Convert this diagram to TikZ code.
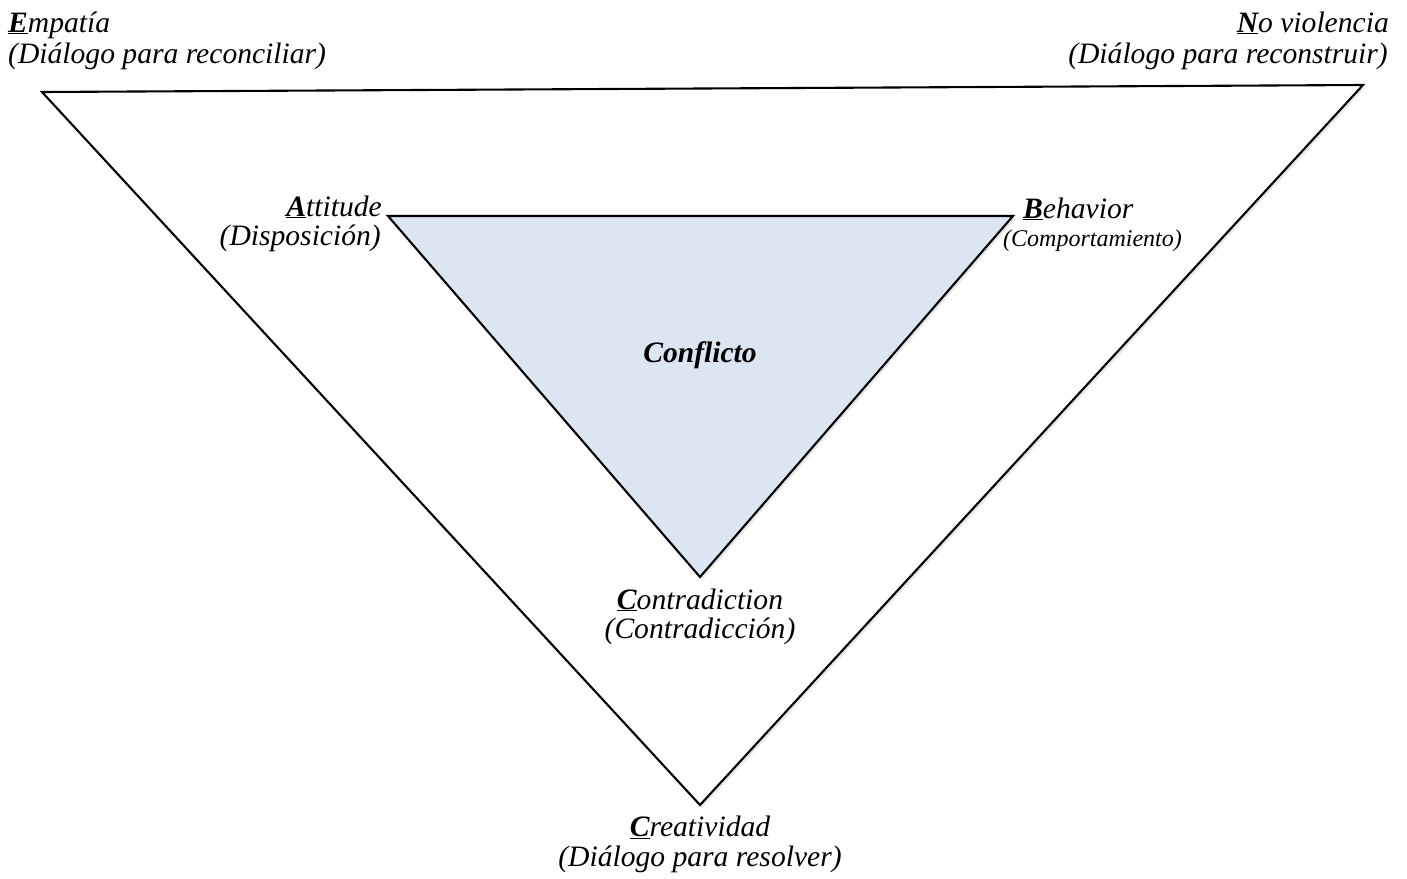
\documentclass[tikz,border=0pt]{standalone}
\usepackage{fontspec}
\setmainfont{Liberation Serif}
\usetikzlibrary{positioning,shadows}
\definecolor{conflictfill}{RGB}{220,230,242}
\newcommand{\firstletter}[1]{\underline{\textbf{#1}}}

\begin{document}
\begin{tikzpicture}[x=1pt,y=-1pt,
    lbl/.style={font=\fontsize{29.6}{31}\selectfont\itshape,inner sep=0pt},
    lblsmall/.style={font=\fontsize{24}{26}\selectfont\itshape,inner sep=0pt},
    tri/.style={draw,line width=2.1pt,line join=miter,
        drop shadow={opacity=0.18,shadow xshift=2pt,shadow yshift=-3pt}}]
    \useasboundingbox (0,0) rectangle (1407,878);
    % outer triangle
    \coordinate (e) at (42,92);
    \coordinate (n) at (1363,85);
    \coordinate (c) at (700,805);
    \path[tri,fill=white] (e) -- (n) -- (c) -- cycle;
    % inner triangle
    \coordinate (a) at (388,216);
    \coordinate (b) at (1013,216);
    \coordinate (k) at (700,577);
    \path[tri,fill=conflictfill] (a) -- (b) -- (k) -- cycle;
    \node[lbl,font=\fontsize{29.6}{31}\selectfont\bfseries\itshape,anchor=base] (conflicto) at (700,362) {Conflicto};
    % corner labels
    \node[lbl,anchor=base west] (empatia) at (8,32) {\firstletter{E}mpatía};
    \node[lbl,anchor=base west] (empatiasub) at (8,63) {(Diálogo para reconciliar)};
    \node[lbl,anchor=base east] (noviolencia) at (1389,32) {\firstletter{N}o violencia};
    \node[lbl,anchor=base east] (noviolenciasub) at (1388,63) {(Diálogo para reconstruir)};
    \node[lbl,anchor=base] (creatividad) at (700,836) {\firstletter{C}reatividad};
    \node[lbl,anchor=base] (creatividadsub) at (700,866) {(Diálogo para resolver)};
    \node[lbl,anchor=base east] (attitude) at (382,216) {\firstletter{A}ttitude};
    \node[lbl,anchor=base east] (attitudesub) at (381,245) {(Disposición)};
    \node[lbl,anchor=base west] (behavior) at (1023,218) {\firstletter{B}ehavior};
    \node[lblsmall,anchor=base west] (behaviorsub) at (1003,246) {(Comportamiento)};
    \node[lbl,anchor=base] (contradiction) at (700,609) {\firstletter{C}ontradiction};
    \node[lbl,anchor=base] (contradictionsub) at (700,638) {(Contradicción)};
\end{tikzpicture}
\end{document}
